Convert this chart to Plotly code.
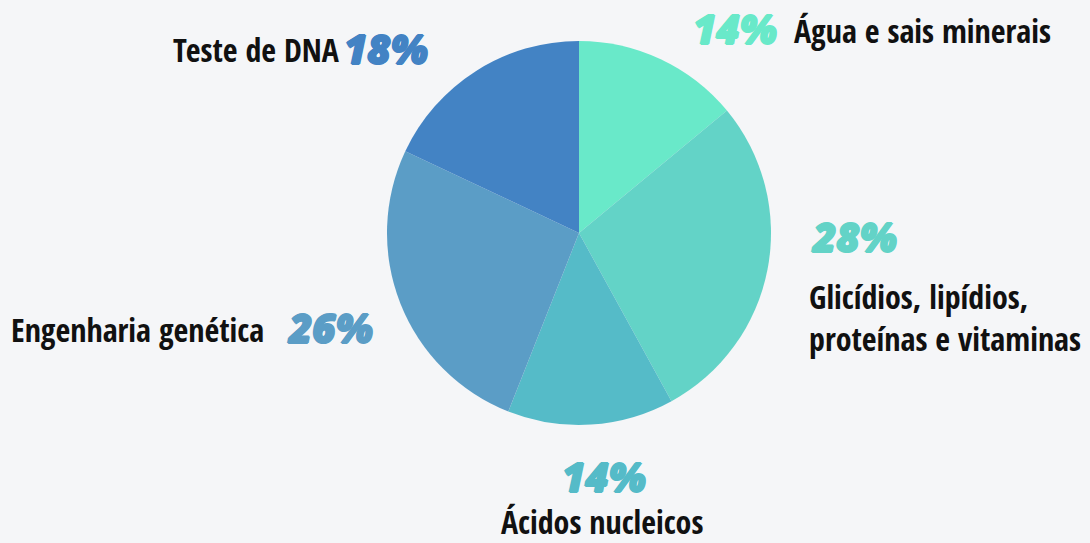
import plotly.graph_objects as go

labels = ["Água e sais minerais", "Glicídios, lipídios,<br>proteínas e vitaminas",
          "Ácidos nucleicos", "Engenharia genética", "Teste de DNA"]
values = [14, 28, 14, 26, 18]
colors = ["#69E9C9", "#63D3C7", "#55BBC8", "#5B9DC6", "#4383C4"]

W, H = 1090, 543
cx, cy, r = 579, 233, 192

fig = go.Figure(go.Pie(
    labels=[l.replace("<br>", " ") for l in labels], values=values, sort=False,
    direction="clockwise", rotation=0,
    marker=dict(colors=colors, line=dict(width=0)), textinfo="none",
    hoverinfo="label+percent", showlegend=False,
    domain=dict(x=[(cx - r) / W, (cx + r) / W], y=[(H - cy - r) / H, (H - cy + r) / H]),
))

LAB = dict(family="Open Sans Condensed, Roboto Condensed, DejaVu Sans", size=32,
           color="#111111", weight="bold")
PCT = dict(family="Open Sans, Lato", size=40, weight=800, style="italic")


def ann(text, x, y, xanchor, font):
    fig.add_annotation(text=text, x=x / W, y=1 - y / H, xref="paper", yref="paper",
                       xanchor=xanchor, yanchor="middle", showarrow=False, font=font,
                       align="left", borderpad=0)


def pct(i):
    return f"{values[i]}%"


def pf(i):
    c = colors[i]
    sh = f"1px 0 0 {c}, -1px 0 0 {c}, 0 1px 0 {c}, 0 -1px 0 {c}"
    return dict(PCT, color=c, shadow=sh)


# Água e sais minerais
ann(pct(0), 692, 29, "left", pf(0))
ann(labels[0], 793, 31, "left", LAB)
# Glicídios ...
ann(pct(1), 810, 236, "left", pf(1))
ann(labels[1], 808, 317, "left", LAB)
# Ácidos nucleicos
ann(pct(2), 604, 476, "center", pf(2))
ann(labels[2], 602, 521, "center", LAB)
# Engenharia genética
ann(labels[3], 10, 329, "left", LAB)
ann(pct(3), 286, 327, "left", pf(3))
# Teste de DNA
ann(labels[4], 172, 50, "left", LAB)
ann(pct(4), 343, 48, "left", pf(4))

fig.update_layout(width=W, height=H, margin=dict(l=0, r=0, t=0, b=0),
                  paper_bgcolor="#F5F6F8", plot_bgcolor="#F5F6F8")

post = """var s=document.createElement('style');s.innerHTML='body{margin:0;background:#F5F6F8}';document.head.appendChild(s);"""
fig.write_html("out.html", post_script=post, config={"displayModeBar": False})
